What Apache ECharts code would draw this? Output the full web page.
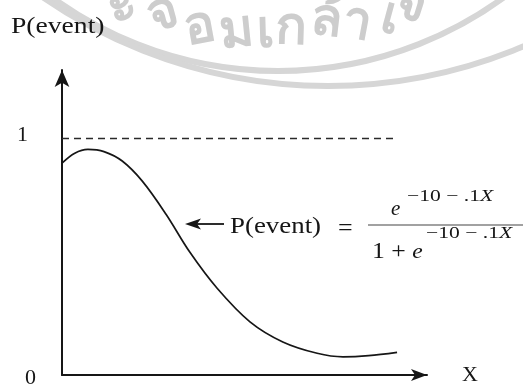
<!DOCTYPE html>
<html>
<head>
<meta charset="utf-8">
<script src="https://cdn.jsdelivr.net/npm/echarts@6/dist/echarts.min.js"></script>
<style>
  html, body { margin: 0; padding: 0; background: #ffffff; }
  #chart { width: 523px; height: 389px; }
</style>
</head>
<body>
<div id="chart"></div>
<script>
// Probability curve P(event) against X
const xValues = [0, 3.5, 7.1, 11.5, 16.5, 22.0, 28.5, 35.0, 42.5, 51.5, 60.5, 69.9, 77.0, 84.0, 91.8];
const pValues = [0.896, 0.938, 0.954, 0.945, 0.905, 0.82, 0.68, 0.52, 0.367, 0.225, 0.14, 0.092, 0.077, 0.082, 0.096];

// Reference level P = 1, drawn dashed
const limitX = [0, 91.2];
const limitP = [1, 1];

// Tick labels on the vertical axis
const yTicks = [0, 1];

const serif = 'Liberation Serif';
const ink = '#161616';

const curve = xValues.map((x, i) => [x, pValues[i]]);
const limit = limitX.map((x, i) => [x, limitP[i]]);

// Faint circular stamp behind the figure
const stampGrey = '#d6d6d6';
const stampChars = [
  ['ะ', 122, 6], ['จ', 163, 14], ['อ', 200, 28], ['ม', 236, 32], ['เ', 266, 32],
  ['ก', 291, 29], ['ล้', 327, 20], ['า', 357, 23], ['เ', 391, 18], ['จ้', 411, 4]
];
const stampGraphics = [
  { type: 'arc', z: -10, silent: true,
    shape: { cx: 278, cy: -312, r: 383, startAngle: 0, endAngle: Math.PI },
    style: { stroke: stampGrey, lineWidth: 6, fill: null } },
  { type: 'arc', z: -10, silent: true,
    shape: { cx: 328, cy: -416, r: 502, startAngle: 0, endAngle: Math.PI },
    style: { stroke: stampGrey, lineWidth: 6, fill: null } }
].concat(stampChars.map(([ch, x, y]) => ({
  type: 'text', z: -10, silent: true, x: x, y: y,
  rotation: -Math.atan((x - 278) / 420),
  style: { text: ch, fill: '#cdcdcd', font: 'bold 52px "Noto Sans", "DejaVu Sans", sans-serif',
           align: 'center', verticalAlign: 'middle' }
})));

const eqRich = {
  n: { fontFamily: serif, fontSize: 16, fill: ink },
  i: { fontFamily: serif, fontSize: 16, fontStyle: 'italic', fill: ink }
};

const chart = echarts.init(document.getElementById('chart'), null, { renderer: 'canvas' });

chart.setOption({
  backgroundColor: '#ffffff',
  animation: false,
  grid: { left: 62, right: 96, top: 70, bottom: 9, containLabel: false },
  xAxis: {
    type: 'value', min: 0, max: 100,
    name: 'X', nameLocation: 'end', nameGap: 35,
    nameTextStyle: { fontFamily: serif, fontSize: 22, color: ink, verticalAlign: 'middle' },
    axisLine: { show: true, symbol: ['none', 'arrow'], symbolSize: [9, 16],
                lineStyle: { color: ink, width: 2 } },
    axisTick: { show: false }, axisLabel: { show: false }, splitLine: { show: false }
  },
  yAxis: {
    type: 'value', min: 0, max: 1.29, interval: 1,
    axisLine: { show: true, symbol: ['none', 'arrow'], symbolSize: [11, 17],
                lineStyle: { color: ink, width: 2 } },
    axisTick: { show: false }, splitLine: { show: false },
    axisLabel: {
      show: true, margin: 26,
      formatter: v => yTicks.includes(v) ? (v === 1 ? '{one|1}' : '{zero|0}') : '',
      rich: {
        one: { fontFamily: serif, fontSize: 22, color: ink, padding: [0, 8, 6, 0] },
        zero: { fontFamily: serif, fontSize: 22, color: ink, padding: [6, 0, 0, 0] }
      }
    }
  },
  series: [
    {
      type: 'line', data: limit, showSymbol: false, silent: true,
      lineStyle: { color: '#2a2a2a', width: 1.4, type: [7, 5] }
    },
    {
      type: 'line', data: curve, smooth: 0.35, showSymbol: false, silent: true,
      lineStyle: { color: ink, width: 1.7 }
    }
  ],
  graphic: stampGraphics.concat([
    // vertical axis title
    { type: 'text', x: 11, y: 27, scaleX: 1.2,
      style: { text: 'P(event)', font: '23px "Liberation Serif"', fill: ink, verticalAlign: 'middle' } },
    // pointer arrow to the curve
    { type: 'line', shape: { x1: 196, y1: 224, x2: 224, y2: 224 },
      style: { stroke: ink, lineWidth: 1.8 } },
    { type: 'polygon', shape: { points: [[185, 224], [201, 218.5], [197, 224], [201, 229.5]] },
      style: { fill: ink } },
    // equation label
    { type: 'text', x: 230, y: 227, scaleX: 1.12,
      style: { text: 'P(event)', font: '24px "Liberation Serif"', fill: ink, verticalAlign: 'middle' } },
    { type: 'text', x: 338, y: 229,
      style: { text: '=', font: '26px "Liberation Serif"', fill: ink, verticalAlign: 'middle' } },
    // numerator
    { type: 'text', x: 391, y: 209,
      style: { text: 'e', font: 'italic 21px "Liberation Serif"', fill: ink, verticalAlign: 'middle' } },
    { type: 'text', x: 407, y: 197, scaleX: 1.35,
      style: { text: '{n|−10 − .1}{i|X}', fill: ink, verticalAlign: 'middle', rich: eqRich } },
    // fraction bar
    { type: 'line', shape: { x1: 368, y1: 225, x2: 523, y2: 225 },
      style: { stroke: '#444', lineWidth: 1.2 } },
    // denominator
    { type: 'text', x: 372, y: 252, scaleX: 1.12,
      style: { text: '{n|1 + }{i|e}', fill: ink, verticalAlign: 'middle',
               rich: { n: { fontFamily: serif, fontSize: 23, fill: ink },
                       i: { fontFamily: serif, fontSize: 21, fontStyle: 'italic', fill: ink } } } },
    { type: 'text', x: 426, y: 234, scaleX: 1.35,
      style: { text: '{n|−10 − .1}{i|X}', fill: ink, verticalAlign: 'middle', rich: eqRich } }
  ])
});
</script>
</body>
</html>
